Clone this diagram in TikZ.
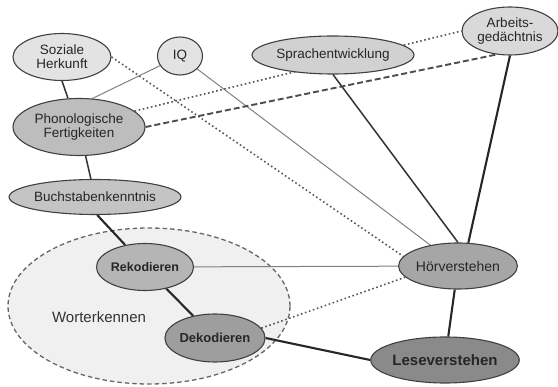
\documentclass[tikz,border=0pt]{standalone}
\usepackage{fontspec}
\setmainfont{Liberation Sans}
\usetikzlibrary{shapes.geometric}
\pgfdeclarelayer{back}
\pgfdeclarelayer{edges}
\pgfsetlayers{back,edges,main}

\begin{document}
\begin{tikzpicture}[x=1pt,y=-1pt,
    ell/.style={ellipse, draw=black!75, line width=1.1pt, inner sep=0pt, align=center, text=black!85,
        font=\fontsize{13.5}{14}\selectfont},
    boldell/.style={ell, font=\fontsize{12.5}{14}\selectfont\bfseries},
    group/.style={ellipse, draw=black!60, line width=1.3pt, dash pattern=on 4.5pt off 3pt, fill=black!6},
    firm/.style={line width=1.5pt, draw=black!80},
    strong/.style={line width=2.1pt, draw=black!85},
    weak/.style={line width=1pt, draw=black!50},
    dotedge/.style={line width=1.6pt, draw=black!65, dash pattern=on 1.6pt off 2.6pt},
    dashedge/.style={line width=1.9pt, draw=black!70, dash pattern=on 6pt off 3pt}
]
    \useasboundingbox (0,0) rectangle (558,387);

    % top row
    \node[ell, fill=black!11, minimum width=98pt, minimum height=47pt] (soz) at (62,57) {Soziale\\Herkunft};
    \node[ell, fill=black!11, minimum width=45pt, minimum height=38pt] (iq) at (180,56) {IQ};
    \node[ell, fill=black!18, minimum width=162pt, minimum height=38pt] (sprache) at (333,55) {Sprachentwicklung};
    \node[ell, fill=black!15, minimum width=96pt, minimum height=48pt] (arbeit) at (510,31) {Arbeits-\\gedächtnis};

    % left column
    \node[ell, fill=black!26, minimum width=132pt, minimum height=57pt] (phon) at (79,127) {Phonologische\\Fertigkeiten};
    \node[ell, fill=black!23, minimum width=164pt, minimum height=35pt] (buch) at (95,197) {Buchstabenkenntnis};

    % word recognition group
    \begin{pgfonlayer}{back}
        \node[group, minimum width=282pt, minimum height=156pt] (wort) at (149,306) {};
    \end{pgfonlayer}
    \node[text=black!80, font=\fontsize{15}{17}\selectfont] (wortlabel) at (99,317) {Worterkennen};
    \node[boldell, fill=black!29, minimum width=97pt, minimum height=47pt] (rek) at (145,267) {Rekodieren};
    \node[boldell, fill=black!38, minimum width=99pt, minimum height=48pt, font=\fontsize{13}{14}\selectfont\bfseries] (dek) at (215,338) {Dekodieren};

    % outcomes
    \node[ell, fill=black!35, minimum width=110pt, minimum height=46pt, font=\fontsize{14}{16}\selectfont] (hoer) at (458,266) {Hörverstehen};
    \node[ell, fill=black!46, minimum width=136pt, minimum height=46pt, font=\fontsize{15}{17}\selectfont\bfseries] (lese) at (445,360) {Leseverstehen};

    \begin{pgfonlayer}{edges}
        % links to Hörverstehen
        \draw[dotedge] (soz.east) -- (hoer.170);
        \draw[weak] (iq) -- (hoer);
        \draw[firm] (sprache.south) -- (hoer.north);
        \draw[strong] (arbeit.south) -- (hoer.66);
        \draw[weak] (rek) -- (hoer);
        \draw[dotedge] (dek.12) -- (hoer.192);

        % links to Phonologische Fertigkeiten
        \draw[firm] (soz.south) -- (phon.111);
        \draw[weak] (iq) -- (phon.65);
        \draw[dotedge] (phon.16) -- (arbeit.west);
        \draw[dashedge] (phon.east) -- (arbeit.240);

        % chain down to Leseverstehen
        \draw[firm] (phon) -- (buch);
        \draw[strong] (buch.-83) -- (rek.132);
        \draw[strong] (rek) -- (dek);
        \draw[strong] (dek.east) -- (lese.west);
        \draw[strong] (hoer) -- (lese);
    \end{pgfonlayer}

\end{tikzpicture}
\end{document}
